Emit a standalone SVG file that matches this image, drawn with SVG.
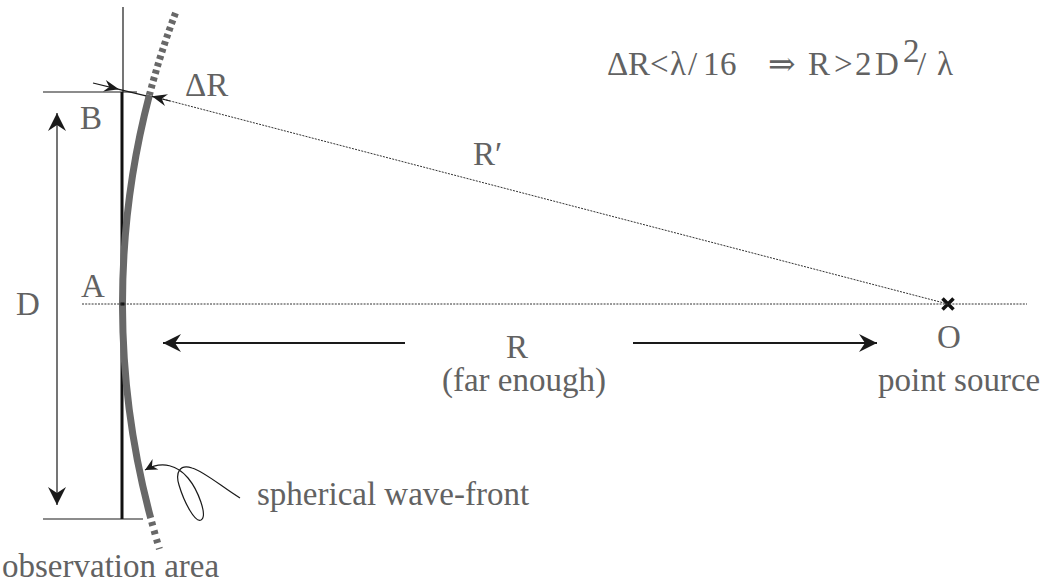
<svg xmlns="http://www.w3.org/2000/svg" width="1044" height="583" viewBox="0 0 1044 583">
<style>
text{font-family:"Liberation Serif","DejaVu Serif","Times New Roman",serif;font-size:33px;fill:#626262}
.thin{stroke:#1a1a1a;stroke-width:1.2;fill:none}
.dot{stroke:#333;stroke-width:1;stroke-dasharray:2 1.2;fill:none}
.wave{stroke:#686868;stroke-width:7;fill:none}
.arr{stroke:#1a1a1a;stroke-width:1.8;fill:none}
</style>
<defs>
<marker id="ah" viewBox="-20 -10 22 20" refX="0" refY="0" markerWidth="22" markerHeight="20" markerUnits="userSpaceOnUse" orient="auto-start-reverse">
<path d="M0,0 L-18,-9 L-12,0 L-18,9 Z" fill="#1a1a1a"/>
</marker>
<marker id="ahs" viewBox="-16 -8 18 16" refX="0" refY="0" markerWidth="18" markerHeight="16" markerUnits="userSpaceOnUse" orient="auto">
<path d="M0,0 L-15,-6 L-10,0 L-15,6 Z" fill="#1a1a1a"/>
</marker>
<marker id="ahp" viewBox="-14 -8 16 16" refX="0" refY="0" markerWidth="16" markerHeight="16" markerUnits="userSpaceOnUse" orient="auto">
<path d="M0,0 L-12,-6 L-8,0 L-12,6 Z" fill="#1a1a1a"/>
</marker>
</defs>

<g id="observation-area">
<line class="thin" x1="123" y1="7" x2="123" y2="92"/>
<line x1="122" y1="92" x2="122" y2="519" stroke="#111" stroke-width="3"/>
<line class="thin" x1="43" y1="92" x2="137" y2="92"/>
<line class="thin" x1="43" y1="519" x2="143" y2="519"/>
<text x="2" y="577">observation area</text>
</g>

<g id="wavefront">
<path class="wave" d="M149.4,95 A825.5,825.5 0 0 0 150.7,518"/>
<path class="wave" d="M175.5,13 A825.5,825.5 0 0 0 149.4,95" stroke-dasharray="4 3.5"/>
<path class="wave" d="M150.7,518 A825.5,825.5 0 0 0 159.4,549" stroke-dasharray="4 5" stroke-dashoffset="-4"/>
<rect x="120.5" y="302.5" width="4" height="3" fill="#111"/>
</g>

<g id="source-O">
<path d="M942.5,298.5 L953.5,309.5 M953.5,298.5 L942.5,309.5" stroke="#111" stroke-width="3.5"/>
<text x="937" y="348">O</text>
<text x="878" y="391">point source</text>
</g>

<g id="labels">
<text x="185" y="96">ΔR</text>
<text x="80" y="129">B</text>
<text x="81" y="297">A</text>
<text x="16" y="315">D</text>
<text x="473" y="165">R′</text>
<text x="517" y="358" text-anchor="middle">R</text>
<text x="524" y="391" text-anchor="middle">(far enough)</text>
<text x="257" y="505">spherical wave-front</text>
</g>

<g id="formula">
<text x="607 628 650 670 688 703 720" y="75">ΔR&lt;λ/16</text>
<text x="768" y="75" font-family="DejaVu Serif,serif" font-size="31">⇒</text>
<text x="808 834 855 875" y="75">R&gt;2D</text>
<text x="903" y="62" font-size="17">2</text>
<text x="917 937" y="75">/λ</text>
</g>

<g id="connectors">
<line class="dot" x1="82" y1="304" x2="1027" y2="304"/>
<line class="dot" x1="160" y1="98.3" x2="946" y2="303.5"/>
<line class="thin" x1="93" y1="83" x2="119" y2="89.3" marker-end="url(#ahs)"/>
<line class="thin" x1="119" y1="89.3" x2="146" y2="95.8"/>
<line class="thin" x1="170" y1="101" x2="152" y2="96.3" marker-end="url(#ahs)"/>
<line class="thin" x1="57" y1="113" x2="57" y2="505" marker-start="url(#ah)" marker-end="url(#ah)"/>
<line class="arr" x1="405" y1="343" x2="163" y2="343" marker-end="url(#ah)"/>
<line class="arr" x1="633" y1="343" x2="877" y2="343" marker-end="url(#ah)"/>
<path class="thin" stroke-width="1" d="M240,498 C222,487 205,472 192,468 C180,464 175,472 179,485 C184,502 195,523 201,520 C208,516 198,490 188,478 C178,466 163,460 145,470" marker-end="url(#ahp)"/>
</g>
</svg>
